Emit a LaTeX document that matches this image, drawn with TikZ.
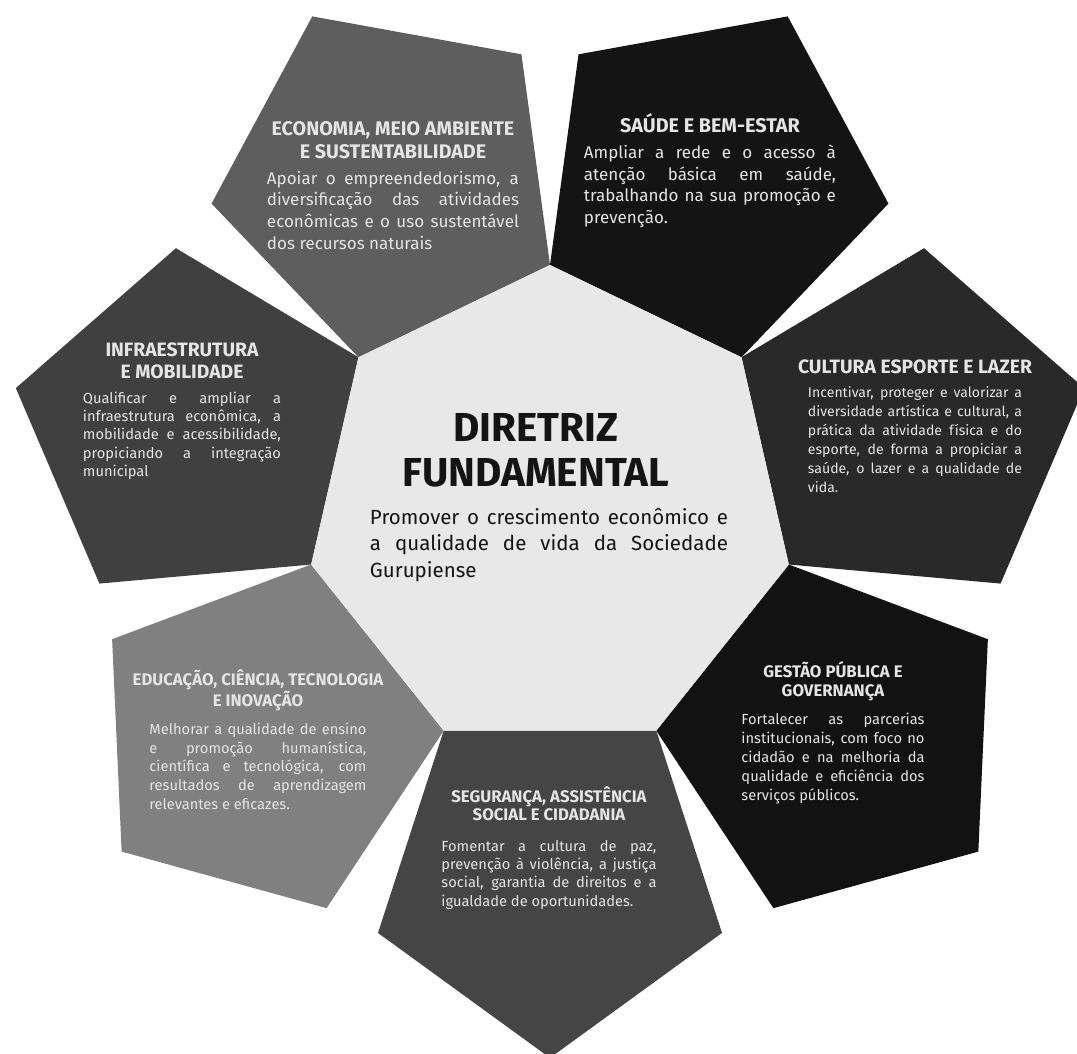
\documentclass[tikz,border=0pt]{standalone}
\usepackage{fontspec}
\setmainfont{Fira Sans}
\definecolor{centro}{gray}{0.91}
\definecolor{economia}{gray}{0.37}
\definecolor{saude}{gray}{0.08}
\definecolor{cultura}{gray}{0.16}
\definecolor{gestao}{gray}{0.07}
\definecolor{seguranca}{gray}{0.27}
\definecolor{educacao}{gray}{0.5}
\definecolor{infra}{gray}{0.25}
\definecolor{petaltext}{gray}{0.9}
\definecolor{centertext}{gray}{0.08}
\begin{document}
\begin{tikzpicture}[x=0.3mm,y=0.3mm,
    ptitle/.style 2 args={font=\bfseries\fontsize{#1}{#2}\selectfont,text=petaltext,align=center,inner sep=0pt,anchor=north},
    pbody/.style n args={3}{font=\fontsize{#1}{#2}\selectfont,text=petaltext,align=justify,text width=#3,inner sep=0pt,anchor=north,yshift=-3.6mm}]
    \def\R{245}
    \def\D{367.04}
    \def\Rp{180.86}
    \useasboundingbox (-550,-544) rectangle (527,510);
    % petals
    \foreach \i/\col in {0/saude,1/cultura,2/gestao,3/seguranca,4/educacao,5/infra,6/economia}{
        \pgfmathsetmacro\t{90-(\i+0.5)*360/7}
        \fill[\col,shift={(\t:\D)}] ({\t+144}:\Rp) -- ({\t+72}:\Rp) -- (\t:\Rp) -- ({\t-72}:\Rp) -- ({\t-144}:\Rp) -- cycle;
    }
    % center
    \fill[centro] (90:\R) \foreach \i in {1,...,6}{ -- ({90-\i*360/7}:\R)} -- cycle;
    \node[font=\bfseries\fontsize{34.5}{39}\selectfont,text=centertext,align=center,inner sep=0pt,anchor=north] (diretriz) at (-14,97) {DIRETRIZ\\FUNDAMENTAL};
    \node[font=\fontsize{17.5}{22.5}\selectfont,text=centertext,align=justify,text width=107.4mm,inner sep=0pt,anchor=north] (promover) at (-1,2) {Promover o crescimento econômico e\linebreak a qualidade de vida da Sociedade\linebreak Gurupiense};
    % texts
    \node[ptitle={16.8}{19.5}] (economia) at (-157,389) {ECONOMIA, MEIO AMBIENTE\\E SUSTENTABILIDADE};
    \node[pbody={14.5}{18.5}{75.6mm}] (economia-txt) at (economia.south) {Apoiar o empreendedorismo, a\linebreak diversificação das atividades\linebreak econômicas e o uso sustentável\linebreak dos recursos naturais};
    \node[ptitle={16.9}{19.5}] (saude) at (160,397) {SAÚDE E BEM-ESTAR};
    \node[pbody={14.5}{18.5}{75.6mm}] (saude-txt) at (saude.south) {Ampliar a rede e o acesso à\linebreak atenção básica em saúde,\linebreak trabalhando na sua promoção e\linebreak prevenção.};
    \node[ptitle={16.5}{19}] (cultura) at (365,150) {CULTURA ESPORTE E LAZER};
    \node[pbody={12}{16.2}{64.2mm}] (cultura-txt) at (cultura.south) {Incentivar, proteger e valorizar a\linebreak diversidade artística e cultural, a\linebreak prática da atividade física e do\linebreak esporte, de forma a propiciar a\linebreak saúde, o lazer e a qualidade de\linebreak vida.};
    \node[ptitle={14.3}{16.2}] (gestao) at (283,-151) {GESTÃO PÚBLICA E\\GOVERNANÇA};
    \node[pbody={12.5}{16.2}{54.9mm}] (gestao-txt) at (gestao.south) {Fortalecer as parcerias\linebreak institucionais, com foco no\linebreak cidadão e na melhoria da\linebreak qualidade e eficiência dos\linebreak serviços públicos.};
    \node[ptitle={14.3}{15.4}] (seguranca) at (-1,-276) {SEGURANÇA, ASSISTÊNCIA\\SOCIAL E CIDADANIA};
    \node[pbody={12.5}{15.4}{64.5mm},yshift=-2.4mm] (seguranca-txt) at (seguranca.south) {Fomentar a cultura de paz,\linebreak prevenção à violência, a justiça\linebreak social, garantia de direitos e a\linebreak igualdade de oportunidades.};
    \node[ptitle={14.3}{16.2}] (educacao) at (-292,-159) {EDUCAÇÃO, CIÊNCIA, TECNOLOGIA\\E INOVAÇÃO};
    \node[pbody={12.5}{16}{65.1mm}] (educacao-txt) at (educacao.south) {Melhorar a qualidade de ensino\linebreak e promoção humanística,\linebreak científica e tecnológica, com\linebreak resultados de aprendizagem\linebreak relevantes e eficazes.};
    \node[ptitle={16.5}{18.8}] (infra) at (-368,167) {INFRAESTRUTURA\\E MOBILIDADE};
    \node[pbody={12.5}{15.6}{59.4mm}] (infra-txt) at (infra.south) {Qualificar e ampliar a\linebreak infraestrutura econômica, a\linebreak mobilidade e acessibilidade,\linebreak propiciando a integração\linebreak municipal};
\end{tikzpicture}
\end{document}
